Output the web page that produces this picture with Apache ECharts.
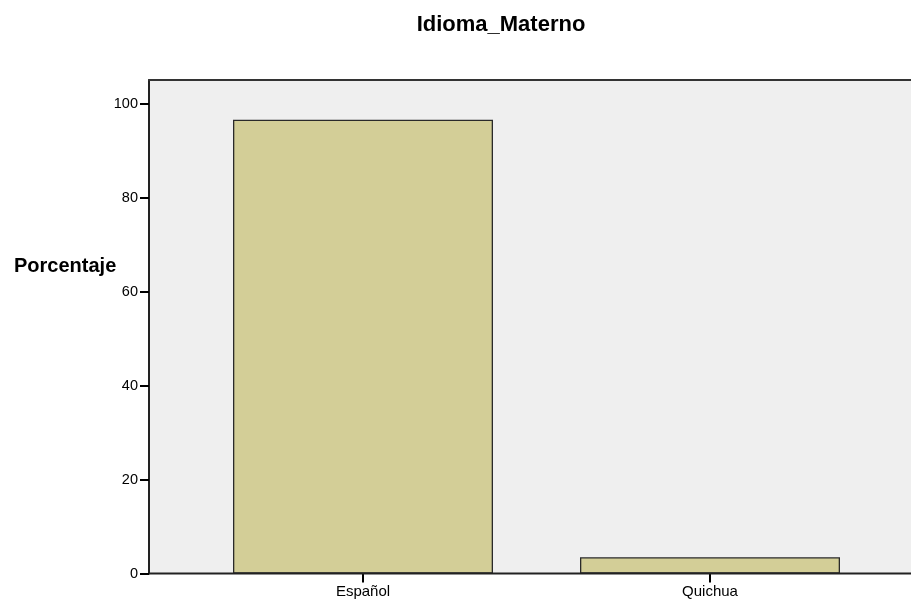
<!DOCTYPE html>
<html>
<head>
<meta charset="utf-8">
<script src="https://cdn.jsdelivr.net/npm/echarts@6/dist/echarts.min.js"></script>
<style>html,body{margin:0;padding:0;background:#fff}#c{width:911px;height:602px}</style>
</head>
<body>
<div id="c"></div>
<script>
const categories = ['Español', 'Quichua'];
const values = [96.55, 3.45];
const yTicks = [0, 20, 40, 60, 80, 100];
const titleText = 'Idioma_Materno';
const yName = 'Porcentaje';

const chart = echarts.init(document.getElementById('c'), null, {renderer: 'canvas'});
const font = 'Arial, "Liberation Sans", sans-serif';
const gTop = 80, gBottom = 28.5;
chart.setOption({
  animation: false,
  graphic: [{
    type: 'text', x: 501, y: 25,
    style: {text: titleText, font: 'bold 22px ' + font, fill: '#000', textAlign: 'center', textVerticalAlign: 'middle'}
  }, {
    type: 'text', x: 14, y: 266,
    style: {text: yName, font: 'bold 20px ' + font, fill: '#000', textAlign: 'left', textVerticalAlign: 'middle'}
  }, {
    type: 'line', shape: {x1: 149, y1: 602 - gBottom, x2: 911, y2: 602 - gBottom},
    style: {stroke: '#222', lineWidth: 2}, z: 100
  }],
  grid: [
    {left: 149, top: gTop, width: 775, bottom: gBottom, show: true, backgroundColor: '#efefef', borderWidth: 0},
    {left: 189.5, top: gTop, width: 694, bottom: gBottom}
  ],
  xAxis: [
    {gridIndex: 0, type: 'value', min: 0, max: 1, position: 'top',
     axisLine: {show: true, onZero: false, lineStyle: {color: '#333', width: 2}},
     axisTick: {show: false}, axisLabel: {show: false}, splitLine: {show: false}},
    {gridIndex: 1, type: 'category', data: categories, boundaryGap: true,
     axisLine: {show: false}, axisTick: {show: true, alignWithLabel: true, length: 9, lineStyle: {color: '#000', width: 2}},
     axisLabel: {fontFamily: font, fontSize: 15, color: '#000', margin: 11}}
  ],
  yAxis: [
    {gridIndex: 0, type: 'value', min: 0, max: 105, interval: 20,
     axisLine: {show: true, lineStyle: {color: '#222', width: 2}},
     axisTick: {show: true, length: 9, lineStyle: {color: '#000', width: 2}},
     axisLabel: {fontFamily: font, fontSize: 14.5, color: '#000', margin: 11, showMaxLabel: false,
       formatter: v => yTicks.includes(v) ? String(v) : ''},
     splitLine: {show: false}},
    {gridIndex: 1, type: 'value', min: 0, max: 105, show: false}
  ],
  series: [
    {type: 'bar', xAxisIndex: 1, yAxisIndex: 1, data: values, barWidth: 260,
     itemStyle: {color: '#d3ce97', borderColor: '#2a2a2a', borderWidth: 1.3}},
    {type: 'line', xAxisIndex: 0, yAxisIndex: 0, data: [], silent: true}
  ]
});
</script>
</body>
</html>
